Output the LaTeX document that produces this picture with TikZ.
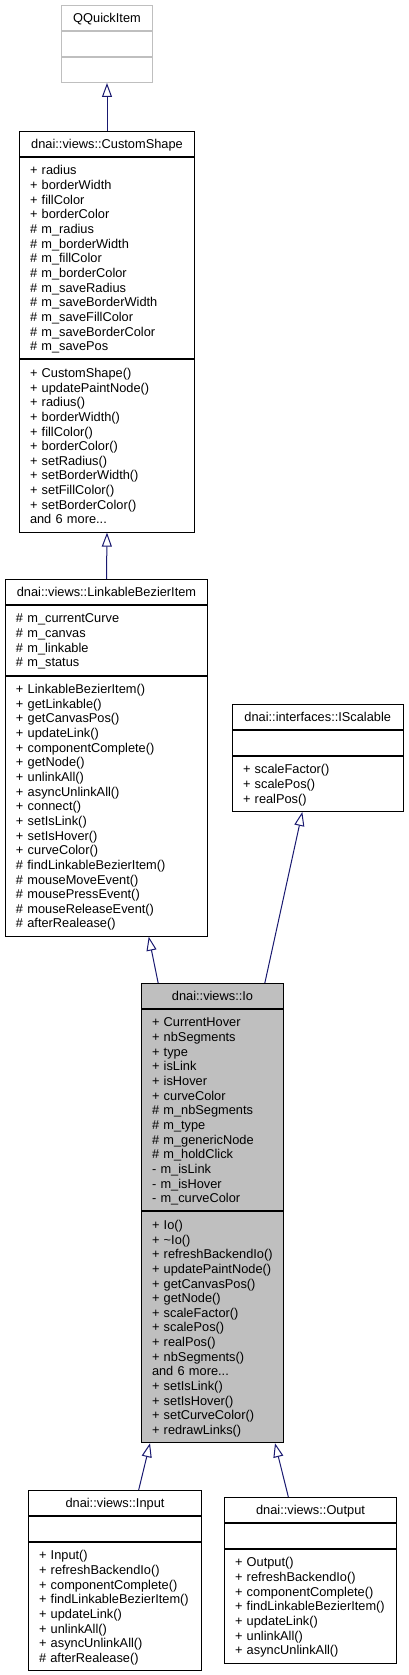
\documentclass[tikz,border=0pt]{standalone}
\usepackage{fontspec}
\usetikzlibrary{arrows.meta,calc}
\newfontfamily\dxfont{Liberation Sans}
\definecolor{edgeblue}{HTML}{191970}
\definecolor{boxgrey}{HTML}{BFBFBF}
\newcommand\dxsize{\dxfont\fontsize{12.8pt}{14.65pt}\selectfont\hyphenpenalty=10000\exhyphenpenalty=10000}
\newcommand\sr{\rule[-2.7pt]{0pt}{14.65pt}}
\tikzset{
  comp/.style={draw=black, line width=1pt, anchor=north west, inner xsep=10.5pt, inner ysep=0pt, font=\dxsize, align=left},
  hdr/.style={comp, align=center, minimum height=25pt},
  emptycomp/.style={comp, minimum height=25pt},
  extern/.style={draw=boxgrey},
  cur/.style={fill=boxgrey},
  inh/.style={draw=edgeblue, line width=1pt, -{Triangle[open, length=14pt, width=10pt]}},
}
\begin{document}
\begin{tikzpicture}[x=1pt, y=-1pt]
\useasboundingbox (0,0) rectangle (408,1675);

% QQuickItem
\node[hdr, extern, text width=70pt] (qqh) at (61,5) {\sr QQuickItem};
\node[emptycomp, extern, text width=70pt] (qqa) at (qqh.south west) {};
\node[emptycomp, extern, text width=70pt] (qqm) at (qqa.south west) {};

% CustomShape
\node[hdr, text width=154pt] (csh) at (19,131) {\sr dnai::views::CustomShape};
\node[comp, text width=154pt, minimum height=201.45pt] (csa) at (csh.south west) {%
\sr+~radius\\\sr+~borderWidth\\\sr+~fillColor\\\sr+~borderColor\\%
\sr\#~m\_radius\\\sr\#~m\_borderWidth\\\sr\#~m\_fillColor\\\sr\#~m\_borderColor\\%
\sr\#~m\_saveRadius\\\sr\#~m\_saveBorderWidth\\\sr\#~m\_saveFillColor\\\sr\#~m\_saveBorderColor\\%
\sr\#~m\_savePos};
\node[comp, text width=154pt, minimum height=172.15pt] (csm) at (csa.south west) {%
\sr+~CustomShape()\\\sr+~updatePaintNode()\\\sr+~radius()\\\sr+~borderWidth()\\%
\sr+~fillColor()\\\sr+~borderColor()\\\sr+~setRadius()\\\sr+~setBorderWidth()\\%
\sr+~setFillColor()\\\sr+~setBorderColor()\\\sr and 6 more...};

% LinkableBezierItem
\node[hdr, text width=181pt] (lbh) at (5,579) {\sr dnai::views::LinkableBezierItem};
\node[comp, text width=181pt, minimum height=69.6pt] (lba) at (lbh.south west) {%
\sr\#~m\_currentCurve\\\sr\#~m\_canvas\\\sr\#~m\_linkable\\\sr\#~m\_status};
\node[comp, text width=181pt, minimum height=260.05pt] (lbm) at (lba.south west) {%
\sr+~LinkableBezierItem()\\\sr+~getLinkable()\\\sr+~getCanvasPos()\\\sr+~updateLink()\\%
\sr+~componentComplete()\\\sr+~getNode()\\\sr+~unlinkAll()\\\sr+~asyncUnlinkAll()\\%
\sr+~connect()\\\sr+~setIsLink()\\\sr+~setIsHover()\\\sr+~curveColor()\\%
\sr\#~findLinkableBezierItem()\\\sr\#~mouseMoveEvent()\\\sr\#~mousePressEvent()\\%
\sr\#~mouseReleaseEvent()\\\sr\#~afterRealease()};

% IScalable
\node[hdr, text width=149.5pt] (ish) at (232,704) {\sr dnai::interfaces::IScalable};
\node[emptycomp, text width=149.5pt] (isa) at (ish.south west) {};
\node[comp, text width=149.5pt, minimum height=54.95pt] (ism) at (isa.south west) {%
\sr+~scaleFactor()\\\sr+~scalePos()\\\sr+~realPos()};

% Io
\node[hdr, cur, text width=121pt] (ioh) at (141,983) {\sr dnai::views::Io};
\node[comp, cur, text width=121pt, minimum height=201.45pt] (ioa) at (ioh.south west) {%
\sr+~CurrentHover\\\sr+~nbSegments\\\sr+~type\\\sr+~isLink\\\sr+~isHover\\\sr+~curveColor\\%
\sr\#~m\_nbSegments\\\sr\#~m\_type\\\sr\#~m\_genericNode\\\sr\#~m\_holdClick\\%
\sr-~m\_isLink\\\sr-~m\_isHover\\\sr-~m\_curveColor};
\node[comp, cur, text width=121pt, minimum height=230.75pt] (iom) at (ioa.south west) {%
\sr+~Io()\\\sr+~\textasciitilde Io()\\\sr+~refreshBackendIo()\\\sr+~updatePaintNode()\\%
\sr+~getCanvasPos()\\\sr+~getNode()\\\sr+~scaleFactor()\\\sr+~scalePos()\\\sr+~realPos()\\%
\sr+~nbSegments()\\\sr and 6 more...\\\sr+~setIsLink()\\\sr+~setIsHover()\\%
\sr+~setCurveColor()\\\sr+~redrawLinks()};

% Input
\node[hdr, text width=152pt] (inph) at (28,1490) {\sr dnai::views::Input};
\node[emptycomp, text width=152pt] (inpa) at (inph.south west) {};
\node[comp, text width=152pt, minimum height=128.2pt] (inpm) at (inpa.south west) {%
\sr+~Input()\\\sr+~refreshBackendIo()\\\sr+~componentComplete()\\\sr+~findLinkableBezierItem()\\%
\sr+~updateLink()\\\sr+~unlinkAll()\\\sr+~asyncUnlinkAll()\\\sr\#~afterRealease()};

% Output
\node[hdr, text width=151pt] (outh) at (224,1497) {\sr dnai::views::Output};
\node[emptycomp, text width=151pt] (outa) at (outh.south west) {};
\node[comp, text width=151pt, minimum height=113.55pt] (outm) at (outa.south west) {%
\sr+~Output()\\\sr+~refreshBackendIo()\\\sr+~componentComplete()\\\sr+~findLinkableBezierItem()\\%
\sr+~updateLink()\\\sr+~unlinkAll()\\\sr+~asyncUnlinkAll()};

% inheritance edges
\draw[inh] (csh.north) -- (qqm.south);
\draw[inh] (lbh.north) -- (csm.south);
\draw[inh] ($(ioh.north west)!0.12!(ioh.north east)$) -- ($(lbm.south west)!0.708!(lbm.south east)$);
\draw[inh] ($(ioh.north west)!0.866!(ioh.north east)$) -- ($(ism.south west)!0.41!(ism.south east)$);
\draw[inh] ($(inph.north west)!0.636!(inph.north east)$) -- ($(iom.south west)!0.063!(iom.south east)$);
\draw[inh] ($(outh.north west)!0.372!(outh.north east)$) -- ($(iom.south west)!0.937!(iom.south east)$);
\end{tikzpicture}
\end{document}
